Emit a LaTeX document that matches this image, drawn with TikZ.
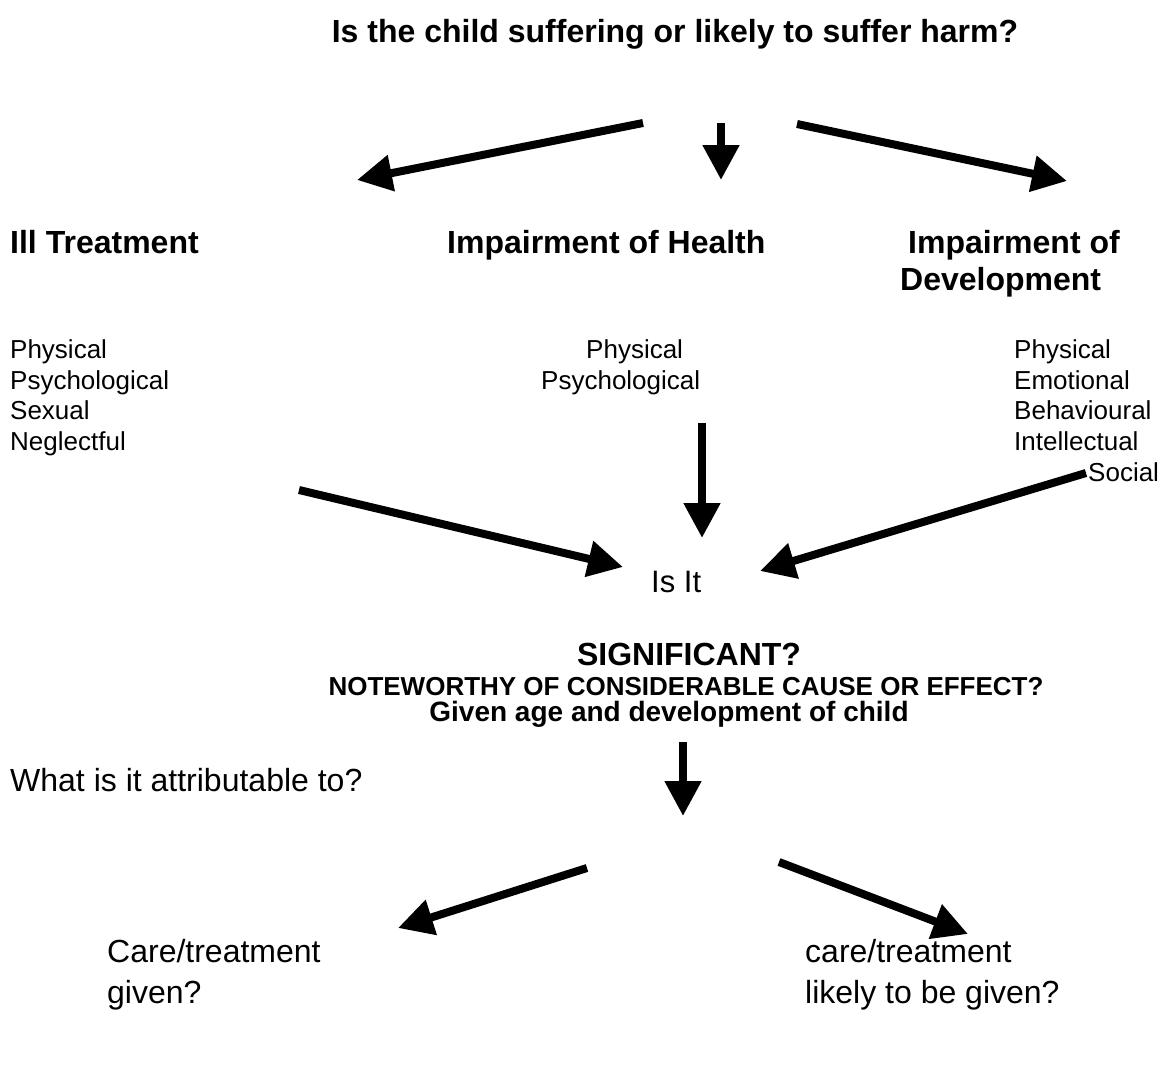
\documentclass[tikz,border=0pt]{standalone}
\usepackage{fontspec}
\setmainfont{Liberation Sans}
\usetikzlibrary{arrows.meta}
\tikzset{
  bigarrow/.style={line width=8pt, -{Triangle[length=35pt 0 0,width=35pt 0 0]}},
  bodytext/.style={font=\fontsize{26}{30.6}\selectfont, inner sep=0pt, anchor=base west},
  bigtext/.style={font=\fontsize{32}{41}\selectfont, inner sep=0pt, anchor=base west},
  headtext/.style={font=\bfseries\fontsize{32}{37}\selectfont, inner sep=0pt, anchor=base west},
}
\begin{document}
\begin{tikzpicture}[x=1pt,y=-1pt]
\useasboundingbox (0,0) rectangle (1166,1065);
\fill[white] (0,0) rectangle (1166,1065);

% title and headings
\node[headtext, anchor=base] (title) at (675,42) {Is the child suffering or likely to suffer harm?};
\node[headtext] (ill) at (10,253) {Ill Treatment};
\node[headtext] (health) at (447,253) {Impairment of Health};
\node[headtext] (dev1) at (908,253) {Impairment of};
\node[headtext] (dev2) at (900,290) {Development};

% left list
\node[bodytext] (l1) at (10,358) {Physical};
\node[bodytext] (l2) at (10,389) {Psychological};
\node[bodytext] (l3) at (10,419) {Sexual};
\node[bodytext] (l4) at (10,450) {Neglectful};

% middle list
\node[bodytext] (m1) at (586,358) {Physical};
\node[bodytext] (m2) at (541,389) {Psychological};

% right list
\node[bodytext] (r1) at (1014,358) {Physical};
\node[bodytext] (r2) at (1014,389) {Emotional};
\node[bodytext] (r3) at (1014,419) {Behavioural};
\node[bodytext] (r4) at (1014,450) {Intellectual};
\node[bodytext] (r5) at (1088,481) {Social};

% centre question
\node[bodytext, font=\fontsize{31}{34}\selectfont] (isit) at (651,592) {Is It};
\node[headtext, anchor=base] (sig) at (689,665) {SIGNIFICANT?};
\node[headtext, anchor=base, font=\bfseries\fontsize{26}{30}\selectfont] (note) at (686,695) {NOTEWORTHY OF CONSIDERABLE CAUSE OR EFFECT?};
\node[headtext, anchor=base, font=\bfseries\fontsize{28}{32}\selectfont] (given) at (669,721) {Given age and development of child};

% bottom
\node[bigtext] (what) at (10,791) {What is it attributable to?};
\node[bigtext] (care1) at (107,962) {Care/treatment};
\node[bigtext] (care2) at (107,1003) {given?};
\node[bigtext] (like1) at (805,962) {care/treatment};
\node[bigtext] (like2) at (805,1003) {likely to be given?};

% arrow end points
\coordinate (a1s) at (643,123); \coordinate (a1e) at (357,180);
\coordinate (a2s) at (721,123); \coordinate (a2e) at (721,180);
\coordinate (a3s) at (797,124); \coordinate (a3e) at (1067,181);
\coordinate (a4s) at (299,490); \coordinate (a4e) at (623,567);
\coordinate (a5s) at (702,423); \coordinate (a5e) at (702,538);
\coordinate (a6s) at (1086,473); \coordinate (a6e) at (760,571);
\coordinate (a7s) at (683,742); \coordinate (a7e) at (683,816);
\coordinate (a8s) at (587,868); \coordinate (a8e) at (398,928);
\coordinate (a9s) at (779,862); \coordinate (a9e) at (968,934);

\foreach \a in {1,...,9} \draw[bigarrow] (a\a s) -- (a\a e);
\end{tikzpicture}
\end{document}
